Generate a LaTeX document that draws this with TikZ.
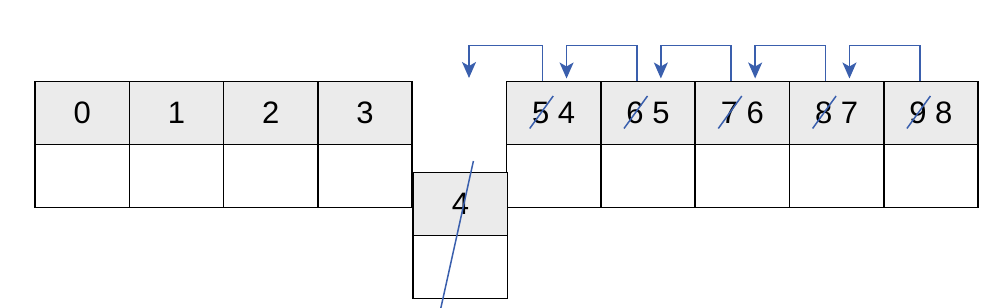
\documentclass[tikz,border=0pt]{standalone}
\usepackage{fontspec}
\setmainfont{Liberation Sans}
\usetikzlibrary{arrows.meta, positioning}

\begin{document}
\begin{tikzpicture}[
  x=0.5pt, y=-0.5pt,
  >={Stealth[length=8pt, width=7pt, inset=2pt]},
  cell/.style={draw, line width=0.8pt, minimum width=47.15pt, minimum height=31.5pt,
               inner sep=0pt, outer sep=0pt, font=\fontsize{15.5}{18}\selectfont},
  hd/.style={cell, fill=cgray},
  arr/.style={->, line width=0.75pt, draw=cblue},
  strike/.style={line width=0.75pt, draw=cblue},
]
\definecolor{cgray}{HTML}{EBEBEB}
\definecolor{cblue}{HTML}{3A5FAD}
\useasboundingbox (0,0) rectangle (1004,308);
% array before the shift
\node[hd] (h0) at (82.2,113) {0};
\node[hd] (h1) at (176.5,113) {1};
\node[hd] (h2) at (270.8,113) {2};
\node[hd] (h3) at (365.1,113) {3};
\node[hd] (h5) at (553.7,113) {5 4};
\node[hd] (h6) at (648.0,113) {6 5};
\node[hd] (h7) at (742.3,113) {7 6};
\node[hd] (h8) at (836.6,113) {8 7};
\node[hd] (h9) at (930.9,113) {9 8};
\node[cell] (b0) at (82.2,176) {};
\node[cell] (b1) at (176.5,176) {};
\node[cell] (b2) at (270.8,176) {};
\node[cell] (b3) at (365.1,176) {};
\node[cell] (b5) at (553.7,176) {};
\node[cell] (b6) at (648.0,176) {};
\node[cell] (b7) at (742.3,176) {};
\node[cell] (b8) at (836.6,176) {};
\node[cell] (b9) at (930.9,176) {};
\coordinate (slot) at (413,81);
% removed element
\node[hd] (h4) at (460.4,204) {4};
\node[cell] (b4) at (460.4,267) {};
\draw[strike] ([shift={(13,-43)}]h4.center) -- ([shift={(-20,106)}]h4.center);
% old indices struck out
\draw[strike] ([shift={(-24,15.5)}]h5.center) -- ([shift={(-0.5,-17)}]h5.center);
\draw[strike] ([shift={(-24,15.5)}]h6.center) -- ([shift={(-0.5,-17)}]h6.center);
\draw[strike] ([shift={(-24,15.5)}]h7.center) -- ([shift={(-0.5,-17)}]h7.center);
\draw[strike] ([shift={(-24,15.5)}]h8.center) -- ([shift={(-0.5,-17)}]h8.center);
\draw[strike] ([shift={(-24,15.5)}]h9.center) -- ([shift={(-0.5,-17)}]h9.center);
% shift left by one
\draw[arr] ([shift={(36,0)}]h5.north west) -- ++(0,-36) -| ([shift={(56,-3)}]slot);
\draw[arr] ([shift={(36,0)}]h6.north west) -- ++(0,-36) -| ([shift={(60,-3)}]h5.north west);
\draw[arr] ([shift={(36,0)}]h7.north west) -- ++(0,-36) -| ([shift={(60,-3)}]h6.north west);
\draw[arr] ([shift={(36,0)}]h8.north west) -- ++(0,-36) -| ([shift={(60,-3)}]h7.north west);
\draw[arr] ([shift={(36,0)}]h9.north west) -- ++(0,-36) -| ([shift={(60,-3)}]h8.north west);
\end{tikzpicture}
\end{document}
